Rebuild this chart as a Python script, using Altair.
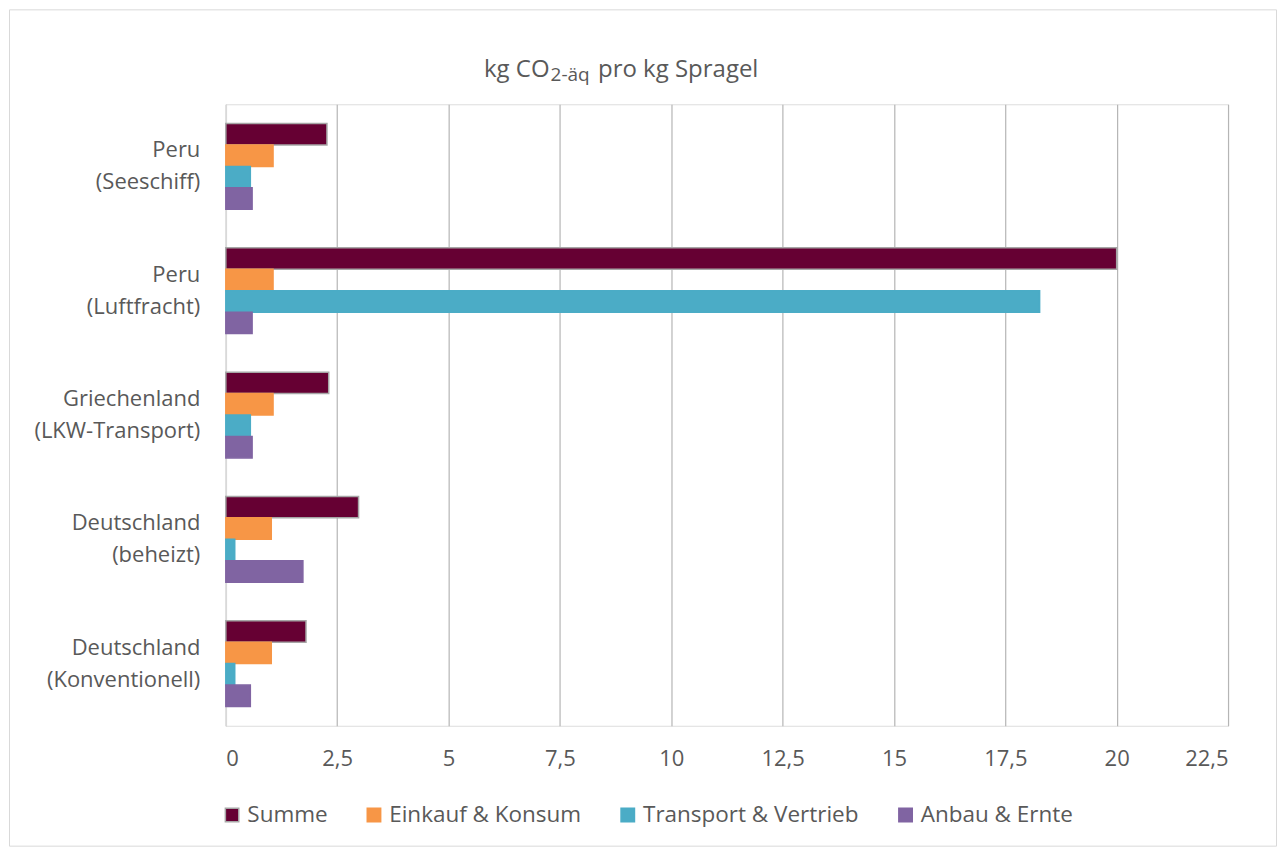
import altair as alt
import pandas as pd

categories = ["Peru|(Seeschiff)", "Peru|(Luftfracht)", "Griechenland|(LKW-Transport)",
              "Deutschland|(beheizt)", "Deutschland|(Konventionell)"]
series = ["Summe", "Einkauf & Konsum", "Transport & Vertrieb", "Anbau & Ernte"]
summe = [2.27, 20.0, 2.31, 2.98, 1.80]
einkauf = [1.06, 1.06, 1.06, 1.02, 1.02]
transport = [0.55, 18.27, 0.55, 0.20, 0.20]
anbau = [0.59, 0.59, 0.59, 1.73, 0.55]
fills = ["#660033", "#F79646", "#4BACC6", "#8064A2"]
strokes = ["#a6a6a6", "#F79646", "#4BACC6", "#8064A2"]
ticks = [0, 2.5, 5, 7.5, 10, 12.5, 15, 17.5, 20, 22.5]

rows = []
for s, vals in zip(series, [summe, einkauf, transport, anbau]):
    for c, v in zip(categories, vals):
        rows.append({"cat": c, "series": s, "value": v})
df = pd.DataFrame(rows)

FONT = "Open Sans"
GREY = "#595959"
W, H = 1003, 622

bars = alt.Chart(df).mark_bar(strokeWidth=1.5).encode(
    x=alt.X("value:Q", scale=alt.Scale(domain=[0, 22.5], nice=False),
            axis=alt.Axis(values=ticks, title=None, grid=True, gridColor="#b5b5b5",
                          gridWidth=1.2, domain=False, ticks=False,
                          labelExpr="replace(toString(datum.value), '.', ',')",
                          labelFontSize=22, labelColor=GREY, labelFont=FONT,
                          labelPadding=23)),
    y=alt.Y("cat:N", sort=categories,
            scale=alt.Scale(paddingInner=0.31, paddingOuter=0.155),
            axis=alt.Axis(title=None, ticks=False, domain=True, domainColor="#d9d9d9",
                          domainWidth=1.5, labelExpr="split(datum.label, '|')",
                          labelFontSize=22, labelColor=GREY, labelFont=FONT,
                          labelLineHeight=32, labelPadding=26, labelAlign="right",
                          labelBaseline="middle", labelOffset=-16, labelLimit=400)),
    yOffset=alt.YOffset("series:N", sort=series, scale=alt.Scale(paddingInner=0, paddingOuter=0)),
    color=alt.Color("series:N", sort=series,
                    scale=alt.Scale(domain=series, range=fills),
                    legend=alt.Legend(title=None, orient="none", direction="horizontal",
                                      legendX=-5, legendY=700,
                                      symbolType="square", symbolSize=180,
                                      symbolStrokeWidth=1.5, symbolOpacity=1,
                                      labelFontSize=22.5, labelColor=GREY, labelFont=FONT,
                                      labelOffset=4, columnPadding=35, labelLimit=400)),
    stroke=alt.Stroke("series:N", sort=series,
                      scale=alt.Scale(domain=series, range=strokes)),
)

one = pd.DataFrame({"k": [0]})
t1 = alt.Chart(one).mark_text(align="right", baseline="alphabetic", fontSize=24,
                              font=FONT, color=GREY).encode(
    x=alt.value(324), y=alt.value(-27), text=alt.value("kg CO"))
t2 = alt.Chart(one).mark_text(align="left", baseline="alphabetic", fontSize=19,
                              font=FONT, color=GREY).encode(
    x=alt.value(325), y=alt.value(-23), text=alt.value("2-äq"))
t3 = alt.Chart(one).mark_text(align="right", baseline="alphabetic", fontSize=24,
                              font=FONT, color=GREY).encode(
    x=alt.value(533), y=alt.value(-27), text=alt.value("pro kg Spragel"))
frame = alt.Chart(one).mark_rect(fill="transparent", stroke="#d9d9d9", strokeWidth=1).encode(
    x=alt.value(-216.5), x2=alt.value(1051.5), y=alt.value(-94.5), y2=alt.value(742.5))

chart = alt.layer(frame, bars, t1, t2, t3).properties(
    width=W, height=H,
    autosize=alt.AutoSizeParams(type="none"),
    padding={"left": 218, "top": 96, "right": 49, "bottom": 122},
).configure_view(stroke=None).configure(background="white")

chart.save("out.html", embed_options={"renderer": "svg", "actions": False})
